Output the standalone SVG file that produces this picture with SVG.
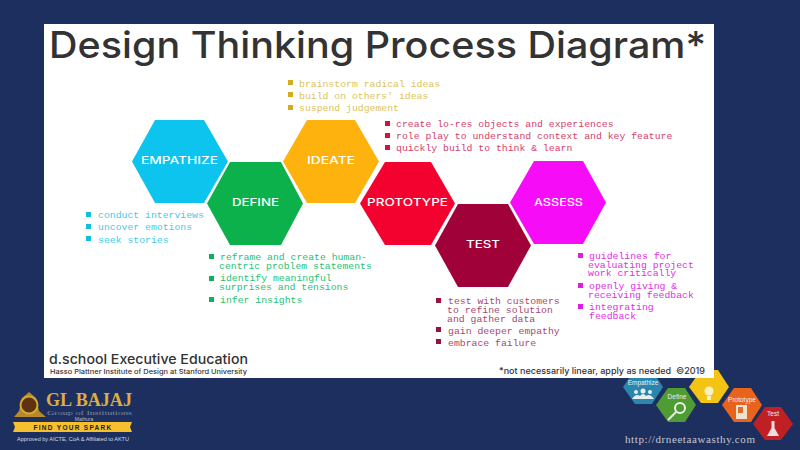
<svg xmlns="http://www.w3.org/2000/svg" width="800" height="450" viewBox="0 0 800 450">
<style>
.m{font-family:"Liberation Mono","DejaVu Sans Mono",monospace;font-size:9.8px}
.h{font-family:"Inter","Liberation Sans",sans-serif;font-weight:500;fill:#fff;font-size:10.500px}
.s{font-family:"Inter","Liberation Sans",sans-serif;font-weight:500;fill:#333}
.mini{font-family:"Liberation Sans",sans-serif;font-size:6.500px;fill:#e8eef2;text-anchor:middle}
.cy{fill:#0fc0dc}.gr{fill:#0db15c}.ye{fill:#d4ac20}.re{fill:#cc1540}.ma{fill:#96123f}.pk{fill:#e01ee0}
.tcy{fill:#45cbe4}.tgr{fill:#1fbf76}.tye{fill:#dcc35a}.tre{fill:#d4406a}.tma{fill:#a54a70}.tpk{fill:#e22ee2}
.ic{fill:#e8eef0}
</style>
<rect width="800" height="450" fill="#1c2f5e"/>

<g id="mini-empathize"><polygon points="623,387 635,370 652,370 663,387 652,404 635,404" fill="#2a86ad"/><text class="mini" x="643" y="385">Empathize</text><circle cx="636" cy="392" r="2" class="ic"/><circle cx="643" cy="391" r="2.500" class="ic"/><circle cx="650" cy="392" r="2" class="ic"/><path d="M632,399 Q636,393 640,396 Q643,392 646,396 Q650,393 654,399 Z" class="ic"/></g>
<g id="mini-define"><polygon points="656,405 668,388 685,388 696,405 685,422 668,422" fill="#4f9c34"/><text class="mini" x="677" y="399">Define</text><circle cx="680" cy="408" r="5" fill="none" stroke="#e8efe4" stroke-width="2"/><path d="M676,412 L668,420" stroke="#e8efe4" stroke-width="2"/></g>
<g id="mini-ideate"><polygon points="689,387 701,370 718,370 729,387 718,403 701,403" fill="#f4c414"/><circle cx="709" cy="391" r="4.500" fill="#fbf0c0"/><rect x="707" y="396" width="4" height="4" fill="#fbf0c0"/></g>
<g id="mini-prototype"><polygon points="722,405 734,388 751,388 762,405 751,422 734,422" fill="#e8641c"/><text class="mini" x="742" y="402">Prototype</text><rect x="736" y="405" width="11" height="14" fill="#f0e0d0"/><rect x="738" y="407" width="5" height="6" fill="#d8702c"/></g>
<g id="mini-test"><polygon points="753,424 765,407 781,407 793,424 781,440 765,440" fill="#c01f24"/><text class="mini" x="773" y="416">Test</text><path d="M771.500,421 L774.500,421 L774.500,428 L779,436 L767,436 L771.500,428 Z" fill="#f0dcdc"/></g>

<rect x="44" y="24" width="670" height="354" fill="#fff"/>
<text class="s" x="49" y="58" font-size="37" fill="#2e2e2e" textLength="657" lengthAdjust="spacingAndGlyphs">Design Thinking Process Diagram*</text>

<g id="empathize"><polygon points="132,161.500 155,120 204,120 228,161.500 204,203 155,203" fill="#0dc4ee"/><text class="h" x="141" y="164" textLength="77" lengthAdjust="spacingAndGlyphs">EMPATHIZE</text></g>
<g id="define"><polygon points="207,203.500 230,162 281,162 303,203.500 281,245 230,245" fill="#0db14b"/><text class="h" x="232" y="205.500" textLength="47" lengthAdjust="spacingAndGlyphs">DEFINE</text></g>
<g id="ideate"><polygon points="283,161.500 307,120 355,120 379,161.500 355,203 307,203" fill="#fdb20d"/><text class="h" x="307" y="164" textLength="48" lengthAdjust="spacingAndGlyphs">IDEATE</text></g>
<g id="prototype"><polygon points="360,203.500 385,162 431,162 455,203.500 431,245 385,245" fill="#f4022f"/><text class="h" x="367" y="205.500" textLength="81" lengthAdjust="spacingAndGlyphs">PROTOTYPE</text></g>
<g id="test"><polygon points="435,245.500 458,204 508,204 531,245.500 508,287 458,287" fill="#a00139"/><text class="h" x="466" y="247.500" textLength="34" lengthAdjust="spacingAndGlyphs">TEST</text></g>
<g id="assess"><polygon points="510,202.500 534,161 583,161 606,202.500 583,244 534,244" fill="#f70cf7"/><text class="h" x="534" y="206" textLength="49" lengthAdjust="spacingAndGlyphs">ASSESS</text></g>

<g id="ideate-notes">
<rect x="288" y="80" width="5" height="5" class="ye"/><rect x="288" y="92" width="5" height="5" class="ye"/><rect x="288" y="105" width="5" height="5" class="ye"/>
<text class="m tye" x="299" y="86.500">brainstorm radical ideas</text><text class="m tye" x="299" y="98.500">build on others' ideas</text><text class="m tye" x="299" y="110.500">suspend judgement</text></g>
<g id="prototype-notes">
<rect x="385" y="121" width="5" height="5" class="re"/><rect x="385" y="133" width="5" height="5" class="re"/><rect x="385" y="145" width="5" height="5" class="re"/>
<text class="m tre" x="396" y="127">create lo-res objects and experiences</text><text class="m tre" x="396" y="139">role play to understand context and key feature</text><text class="m tre" x="396" y="151">quickly build to think &amp; learn</text></g>
<g id="empathize-notes">
<rect x="86" y="212" width="5" height="5" class="cy"/><rect x="86" y="224" width="5" height="5" class="cy"/><rect x="86" y="236" width="5" height="5" class="cy"/>
<text class="m tcy" x="98" y="218">conduct interviews</text><text class="m tcy" x="98" y="230">uncover emotions</text><text class="m tcy" x="98" y="242.500">seek stories</text></g>
<g id="define-notes">
<rect x="209" y="254" width="5" height="5" class="gr"/><rect x="209" y="276" width="5" height="5" class="gr"/><rect x="209" y="297" width="5" height="5" class="gr"/>
<text class="m tgr" x="220" y="260">reframe and create human-</text><text class="m tgr" x="219" y="269">centric problem statements</text><text class="m tgr" x="220" y="281">identify meaningful</text><text class="m tgr" x="219" y="290">surprises and tensions</text><text class="m tgr" x="220" y="302.500">infer insights</text></g>
<g id="test-notes">
<rect x="436" y="298" width="5" height="5" class="ma"/><rect x="436" y="327" width="5" height="5" class="ma"/><rect x="436" y="339" width="5" height="5" class="ma"/>
<text class="m tma" x="448" y="304">test with customers</text><text class="m tma" x="447" y="313">to refine solution</text><text class="m tma" x="447" y="321.500">and gather data</text><text class="m tma" x="448" y="333.500">gain deeper empathy</text><text class="m tma" x="448" y="345.500">embrace failure</text></g>
<g id="assess-notes">
<rect x="578" y="253" width="5" height="5" class="pk"/><rect x="578" y="283" width="5" height="5" class="pk"/><rect x="578" y="304" width="5" height="5" class="pk"/>
<text class="m tpk" x="589" y="259">guidelines for</text><text class="m tpk" x="588" y="268">evaluating project</text><text class="m tpk" x="588" y="276">work critically</text><text class="m tpk" x="589" y="289">openly giving &amp;</text><text class="m tpk" x="588" y="298">receiving feedback</text><text class="m tpk" x="589" y="310">integrating</text><text class="m tpk" x="589" y="319">feedback</text></g>

<text class="s" x="49" y="364" font-size="13.500" textLength="199" lengthAdjust="spacingAndGlyphs">d.school Executive Education</text>
<text class="s" x="50" y="374" font-size="6.500" font-weight="600" textLength="197" lengthAdjust="spacingAndGlyphs">Hasso Plattner Institute of Design at Stanford University</text>
<text class="s" x="499" y="374" font-size="8.500" textLength="206" lengthAdjust="spacingAndGlyphs" xml:space="preserve">*not necessarily linear, apply as needed  ©2019</text>

<g id="logo">
<polygon points="14,417 19,411 22,398 29,392 36,398 39,411 46,417" fill="#b58a2a"/>
<circle cx="29" cy="405" r="8.500" fill="#5e3410" stroke="#d9a92f" stroke-width="2"/>
<text x="46" y="406" font-family="Liberation Serif,serif" font-weight="700" font-size="19" fill="#dcae3e" textLength="86" lengthAdjust="spacingAndGlyphs">GL BAJAJ</text>
<text x="47" y="415" font-family="Liberation Serif,serif" font-size="6.500" fill="#8089a3" textLength="85" lengthAdjust="spacingAndGlyphs">Group of Institutions</text>
<text x="84" y="421" font-family="Liberation Sans,sans-serif" font-size="5" fill="#b8bdcc" text-anchor="middle">Mathura</text>
<polygon points="13,422 132,422 130,427 132,432 13,432 15,427" fill="#f5bf2e"/>
<text x="73" y="429.500" font-family="Liberation Sans,sans-serif" font-weight="700" font-size="6.500" fill="#222" text-anchor="middle" letter-spacing="1.300">FIND YOUR SPARK</text>
<text x="17" y="440.500" font-family="Liberation Sans,sans-serif" font-size="5" fill="#d5d8e2" textLength="112" lengthAdjust="spacingAndGlyphs">Approved by AICTE, CoA &amp; Affiliated to AKTU</text>
</g>

<text x="625" y="443" font-family="Liberation Serif,serif" font-size="11" fill="#c4c8d4" textLength="130">http://drneetaawasthy.com</text>
</svg>
